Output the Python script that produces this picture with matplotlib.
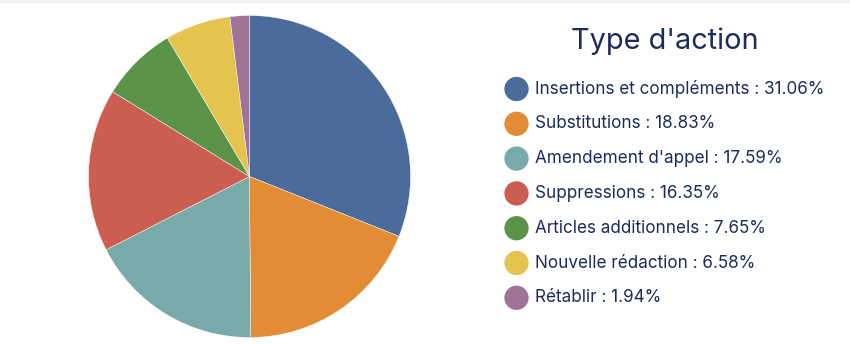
import matplotlib
matplotlib.use("Agg")
import matplotlib.pyplot as plt
from matplotlib.patches import Rectangle

categories = ["Insertions et compléments", "Substitutions", "Amendement d'appel",
              "Suppressions", "Articles additionnels", "Nouvelle rédaction", "Rétablir"]
values = [31.06, 18.83, 17.59, 16.35, 7.65, 6.58, 1.94]
colors = ["#4b6b9a", "#e38c36", "#77aaa8", "#cc5e51", "#5b9449", "#e4c34f", "#9f7396"]
title = "Type d'action"

W, H = 850, 344
plt.rcParams['font.family'] = ['Inter', 'DejaVu Sans']
fig = plt.figure(figsize=(W / 100, H / 100), dpi=100)
fig.patch.set_facecolor("white")

# light top strip
fig.add_artist(Rectangle((0, 1 - 3 / H), 1, 3 / H, transform=fig.transFigure,
                         facecolor="#f0f0f0", edgecolor="none"))

cx, cy, r = 249.5, 176.5, 161
ax = fig.add_axes([(cx - r) / W, (H - cy - r) / H, 2 * r / W, 2 * r / H])
ax.pie(values, colors=colors, startangle=90, counterclock=False, radius=1,
       wedgeprops=dict(linewidth=0.3, edgecolor="white"))
ax.set_xlim(-1, 1)
ax.set_ylim(-1, 1)
ax.set_aspect("equal")

navy = "#1c2b5b"
lax = fig.add_axes([0, 0, 1, 1])
lax.set_xlim(0, W)
lax.set_ylim(H, 0)
lax.axis("off")

lax.text(664.5, 41, title, ha="center", va="center", fontsize=20.8, color=navy)
y0, dy = 89, 34.8
for i, (c, v, col) in enumerate(zip(categories, values, colors)):
    y = y0 + i * dy
    lax.scatter([516.5], [y], s=17.5 ** 2, color=col, edgecolors="none")
    lax.text(535, y, f"{c} : {v:.2f}%", ha="left", va="center", fontsize=12.3, color=navy)

fig.savefig("out.png", dpi=100)
